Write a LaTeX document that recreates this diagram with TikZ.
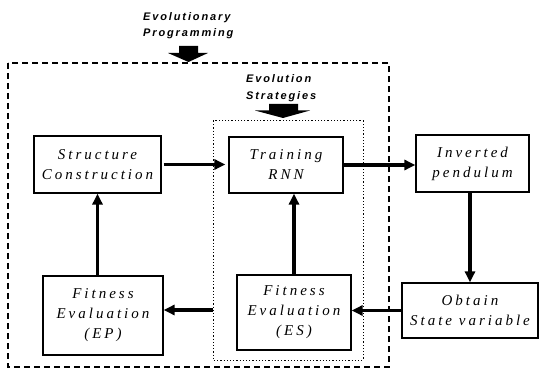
\documentclass[tikz,border=0pt]{standalone}
\usepackage{fontspec}
\usetikzlibrary{arrows.meta,calc}
\newfontfamily\boxfont[LetterSpace=20]{Liberation Serif}
\newfontfamily\labfont[LetterSpace=17]{Liberation Sans}
\tikzset{
  blk/.style={draw,line width=1.2pt,rectangle,inner sep=0pt,align=center,
    font=\boxfont\itshape\fontsize{15}{20}\selectfont},
  conn/.style={line width=3.5pt,-{Triangle[length=11pt,width=10pt]}},
  lab/.style={align=left,anchor=north west,inner sep=0pt,
    font=\labfont\bfseries\itshape\fontsize{11}{16.5}\selectfont},
  outer/.style={line width=1.3pt,dash pattern=on 6pt off 4pt},
  inner/.style={line width=1pt,dash pattern=on 1.2pt off 2pt}
}
\begin{document}
\begin{tikzpicture}[x=1pt,y=-1pt]
\useasboundingbox (0,0) rectangle (542,369);
% containers
\draw[outer] (8,63) rectangle (389,367);
\draw[inner] (213,121) rectangle (363,360);
\coordinate (innerW) at (213,310);
% block arrows
\fill (179,46) -- (198,46) -- (198,53) -- (208,53) -- (188.5,62) -- (168,53) -- (179,53) -- cycle;
\fill (269,104) -- (298,104) -- (298,110.5) -- (310,110.5) -- (283,118) -- (255,110.5) -- (269,110.5) -- cycle;
% labels
\node[lab] (ep) at (143,12) {Evolutionary\\Programming};
\node[lab] (esl) at (246,74.5) {Evolution\\Strategies};
% boxes
\node[blk,minimum width=127pt,minimum height=57pt] (struct) at (97.5,164.5) {Structure\\Construction};
\node[blk,minimum width=114pt,minimum height=56pt] (train) at (286,165) {Training\\RNN};
\node[blk,minimum width=113pt,minimum height=57pt] (inv) at (472.5,163.5) {Inverted\\pendulum};
\node[blk,minimum width=120pt,minimum height=79pt] (fep) at (103,315.5) {Fitness\\Evaluation\\(EP)};
\node[blk,minimum width=114pt,minimum height=75pt] (fes) at (294,312.5) {Fitness\\Evaluation\\(ES)};
\node[blk,minimum width=136pt,minimum height=55pt] (obt) at (470,310.5) {Obtain\\State variable};
% connectors
\draw[conn,shorten <=2pt,shorten >=3pt] (struct.east) -- (struct.east -| train.west);
\draw[conn] (train.east) -- (train.east -| inv.west);
\draw[conn] (inv.south -| obt.north) -- (obt.north);
\draw[conn] (obt.west) -- (obt.west -| fes.east);
\draw[conn] (innerW) -- (innerW -| fep.east);
\draw[conn] (fep.north -| struct.south) -- (struct.south);
\draw[conn] (fes.north) -- (fes.north |- train.south);
\end{tikzpicture}
\end{document}
